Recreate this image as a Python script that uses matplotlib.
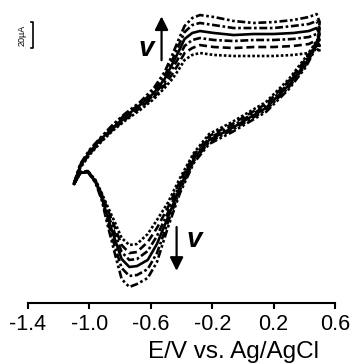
import matplotlib
matplotlib.use('Agg')
import matplotlib.pyplot as plt

plt.rcParams['font.family'] = ['Liberation Sans', 'DejaVu Sans']
plt.rcParams['axes.unicode_minus'] = False

# potential grid (V vs Ag/AgCl), forward (anodic) and reverse (cathodic) sweeps
E_fwd = [-1.10, -1.06, -1.00, -0.93, -0.85, -0.77, -0.67, -0.58, -0.51, -0.46, -0.42,
         -0.38, -0.33, -0.28, -0.19, -0.06, 0.07, 0.20, 0.33, 0.43, 0.48, 0.50]
E_rev = [0.485, 0.41, 0.30, 0.15, -0.07, -0.22, -0.32, -0.41, -0.49, -0.56, -0.62,
         -0.69, -0.74, -0.79, -0.835, -0.88, -0.92, -0.96, -1.01, -1.06, -1.10]

# current (uA), one list per scan rate, slowest first
fwd_1 = [-2.5, 9.2, 19.2, 28.5, 37.7, 45.4, 53.8, 62.3, 70.8, 77.7, 84.6, 92.3, 96.2, 97.7, 96.2, 95.4, 95.4, 95.4, 96.2, 97.7, 101.5, 98.5]
fwd_2 = [-2.5, 10.0, 20.0, 29.2, 38.5, 46.2, 55.4, 63.8, 73.1, 81.5, 89.2, 97.7, 101.5, 103.8, 102.3, 101.5, 102.3, 102.3, 103.1, 104.6, 107.7, 103.1]
fwd_3 = [-2.5, 10.8, 20.8, 30.0, 39.2, 47.7, 56.2, 65.4, 75.4, 85.4, 93.8, 103.1, 107.7, 109.2, 107.7, 106.9, 107.7, 107.7, 108.5, 110.0, 112.3, 107.7]
fwd_4 = [-2.5, 10.8, 21.5, 30.8, 40.0, 48.5, 57.7, 66.9, 77.7, 89.2, 98.5, 108.5, 113.1, 114.6, 113.1, 111.5, 112.3, 112.3, 113.1, 114.6, 116.9, 112.3]
fwd_5 = [-2.5, 11.5, 22.3, 31.5, 41.5, 50.0, 58.5, 68.5, 80.0, 92.3, 103.1, 113.8, 119.2, 120.8, 119.2, 116.9, 116.9, 116.9, 118.5, 120.0, 122.3, 116.9]
fwd_6 = [-2.5, 12.3, 23.1, 32.3, 42.3, 50.8, 60.0, 70.8, 83.1, 96.2, 107.7, 118.5, 124.6, 126.9, 125.4, 122.3, 120.8, 121.5, 123.1, 125.4, 127.7, 121.5]

rev_1 = [107.7, 94.6, 77.7, 60.0, 44.6, 35.4, 20.8, 1.5, -17.7, -30.8, -41.5, -49.2, -50.0, -44.6, -32.3, -20.8, -10.0, 0.0, 6.9, 6.2, -3.1]
rev_2 = [106.9, 93.1, 76.2, 58.5, 43.1, 33.8, 19.2, -0.8, -21.5, -36.9, -47.7, -55.4, -56.2, -50.0, -36.2, -23.1, -10.8, -0.8, 6.9, 6.2, -3.1]
rev_3 = [106.2, 91.5, 74.6, 56.9, 41.5, 32.3, 17.7, -3.1, -25.4, -43.1, -54.6, -60.8, -61.5, -55.4, -40.8, -26.2, -11.5, -0.8, 6.2, 5.4, -3.1]
rev_4 = [105.4, 90.0, 73.1, 55.4, 40.0, 30.8, 16.2, -5.4, -29.2, -49.2, -61.5, -66.2, -66.9, -60.8, -45.4, -29.2, -13.1, -1.5, 6.2, 5.4, -3.1]
rev_5 = [104.6, 88.5, 71.5, 53.8, 38.5, 29.2, 14.6, -7.7, -33.1, -56.2, -68.5, -73.1, -73.8, -67.7, -50.8, -32.3, -13.8, -1.5, 6.2, 5.4, -3.1]
rev_6 = [103.8, 86.9, 70.0, 52.3, 36.9, 27.7, 13.1, -10.0, -36.9, -63.1, -75.4, -80.0, -82.3, -76.2, -56.2, -35.4, -15.4, -2.3, 6.2, 5.4, -3.1]

xticks = [-1.4, -1.0, -0.6, -0.2, 0.2, 0.6]
xtick_labels = ['-1.4', '-1.0', '-0.6', '-0.2', '0.2', '0.6']

fwd = [fwd_1, fwd_2, fwd_3, fwd_4, fwd_5, fwd_6]
rev = [rev_1, rev_2, rev_3, rev_4, rev_5, rev_6]
styles = [(0, (1, 0.8)), (0, (3, 1.5)), (0, (3, 1, 1, 1)), '-',
          (0, (3, 1, 1, 1)), (0, (3, 1, 1, 1, 1, 1))]

fig = plt.figure(figsize=(3.55, 3.64), dpi=100)
ax = fig.add_axes([0.0789, 0.1676, 0.8648, 0.8186])

for up, dn, ls in zip(fwd, rev, styles):
    ax.plot(E_fwd + E_rev, up + dn, color='black', lw=1.9, ls=ls)

ax.set_xlim(-1.4, 0.6)
ax.set_ylim(-94.6, 134.6)
for s in ['left', 'right', 'top']:
    ax.spines[s].set_visible(False)
ax.spines['bottom'].set_linewidth(1.5)
ax.set_yticks([])
ax.set_xticks(xticks)
ax.set_xticklabels(xtick_labels)
ax.tick_params(axis='x', direction='out', length=4, width=1.5, labelsize=15.5, pad=4)

fig.text(233 / 355, 1 - 352 / 364, 'E/V vs. Ag/AgCl', ha='center', va='center', fontsize=17.5)

# scan-rate arrows
ax.annotate('', xy=(-0.53, 128), xytext=(-0.53, 90),
            arrowprops=dict(arrowstyle='-|>', color='black', lw=1.6, mutation_scale=20))
ax.text(-0.627, 101, 'v', fontsize=20, fontstyle='italic', fontweight='bold',
        ha='center', va='center')
ax.annotate('', xy=(-0.432, -72), xytext=(-0.432, -34),
            arrowprops=dict(arrowstyle='-|>', color='black', lw=1.6, mutation_scale=20))
ax.text(-0.316, -46, 'v', fontsize=20, fontstyle='italic', fontweight='bold',
        ha='center', va='center')

# 20 uA scale bar
ax.plot([-1.3805, -1.3675, -1.3675, -1.3805], [121.5, 121.5, 101.5, 101.5],
        color='black', lw=1.2, clip_on=False)
ax.text(-1.44, 111.5, '20µA', rotation=90, fontsize=6.5, ha='center', va='center')

fig.savefig('out.png', dpi=100)
